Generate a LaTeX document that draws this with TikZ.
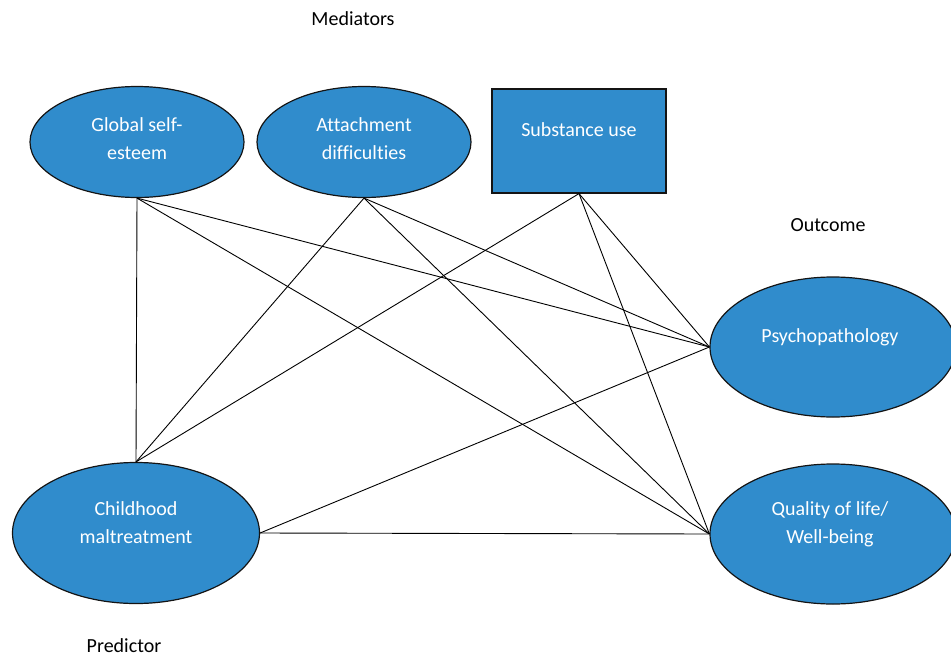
\documentclass[tikz,border=0pt]{standalone}
\usepackage{fontspec}
\setmainfont{Carlito}[Ligatures={NoCommon}]
\usetikzlibrary{shapes.geometric}
\definecolor{boxblue}{RGB}{48,140,204}
\definecolor{edgeline}{RGB}{20,20,20}
\begin{document}
\begin{tikzpicture}[x=1pt,y=-1pt,
  blob/.style={ellipse, draw=edgeline, line width=1.2pt, fill=boxblue, inner sep=0pt},
  sqbox/.style={rectangle, draw=edgeline, line width=1.2pt, fill=boxblue, inner sep=0pt},
  txt/.style={text=white, font=\fontsize{20}{28}\selectfont, align=center, inner sep=0pt},
  grouplabel/.style={text=black, font=\fontsize{20}{24}\selectfont, inner sep=0pt},
  link/.style={draw=black, line width=0.9pt}]
\useasboundingbox (0,0) rectangle (951,656);

% group captions
\node[grouplabel] (medcap) at (353,19) {Mediators};
\node[grouplabel] (outcap) at (828,225) {Outcome};
\node[grouplabel] (precap) at (124,646) {Predictor};

% mediators
\node[blob, minimum width=214pt, minimum height=111pt] (gse) at (137,142) {};
\node[blob, minimum width=214pt, minimum height=111pt] (att) at (364,142) {};
\node[sqbox, minimum width=174pt, minimum height=104pt] (sub) at (579,141) {};

% outcomes
\node[blob, minimum width=246pt, minimum height=140pt] (psy) at (833,347) {};
\node[blob, minimum width=246pt, minimum height=140pt] (qol) at (833,534) {};

% predictor
\node[blob, minimum width=247pt, minimum height=141pt] (cm) at (136,533) {};

% connectors
\draw[link] (gse.south) -- (cm.north);
\draw[link] (gse.south) -- (psy.west);
\draw[link] (gse.south) -- (qol.west);
\draw[link] (att.south) -- (cm.north);
\draw[link] (att.south) -- (psy.west);
\draw[link] (att.south) -- (qol.west);
\draw[link] (sub.south) -- (cm.north);
\draw[link] (sub.south) -- (psy.west);
\draw[link] (sub.south) -- (qol.west);
\draw[link] (cm.east) -- (psy.west);
\draw[link] (cm.east) -- (qol.west);

% texts inside the shapes
\node[txt] (gse-t) at ([yshift=3pt]gse.center) {Global self-\\esteem};
\node[txt] (att-t) at ([yshift=3pt]att.center) {Attachment\\difficulties};
\node[txt] (sub-t) at ([yshift=11pt]sub.center) {Substance use};
\node[txt] (psy-t) at ([xshift=-3pt,yshift=10pt]psy.center) {Psychopathology};
\node[txt] (qol-t) at ([xshift=-3pt,yshift=10pt]qol.center) {Quality of life/\\Well-being};
\node[txt] (cm-t) at ([yshift=10pt]cm.center) {Childhood\\maltreatment};
\end{tikzpicture}
\end{document}
